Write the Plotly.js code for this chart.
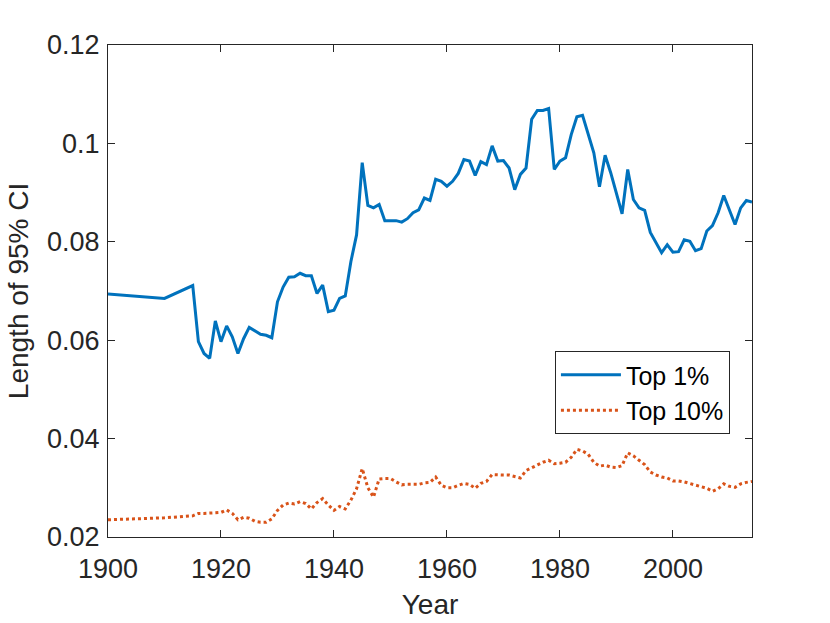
<!DOCTYPE html>
<html>
<head>
<meta charset="utf-8">
<script src="https://cdn.plot.ly/plotly-3.0.1.min.js"></script>
<style>html,body{margin:0;padding:0;background:#fff;}#chart{width:830px;height:623px;}</style>
</head>
<body>
<div id="chart"></div>
<script>
const years = [1900, 1910, 1915, 1916, 1917, 1918, 1919, 1920, 1921, 1922, 1923, 1924, 1925, 1926, 1927, 1928, 1929,
  1930, 1931, 1932, 1933, 1934, 1935, 1936, 1937, 1938, 1939, 1940, 1941, 1942, 1943, 1944, 1945, 1946, 1947, 1948, 1949,
  1950, 1951, 1952, 1953, 1954, 1955, 1956, 1957, 1958, 1959, 1960, 1961, 1962, 1963, 1964, 1965, 1966, 1967, 1968, 1969,
  1970, 1971, 1972, 1973, 1974, 1975, 1976, 1977, 1978, 1979, 1980, 1981, 1982, 1983, 1984, 1985, 1986, 1987, 1988, 1989,
  1990, 1991, 1992, 1993, 1994, 1995, 1996, 1997, 1998, 1999, 2000, 2001, 2002, 2003, 2004, 2005, 2006, 2007, 2008, 2009,
  2010, 2011, 2012, 2013, 2014];

const top1 = [0.0694, 0.0685, 0.0711, 0.0597, 0.0573, 0.0563, 0.0639, 0.0597, 0.0629, 0.0607, 0.0573, 0.0603, 0.0626, 0.0619, 0.0612, 0.0610, 0.0605,
  0.0678, 0.0708, 0.0728, 0.0729, 0.0736, 0.0731, 0.0731, 0.0695, 0.0712, 0.0658, 0.0661, 0.0685, 0.0690, 0.0760, 0.0814, 0.0961, 0.0874, 0.0869, 0.0876, 0.0843,
  0.0843, 0.0843, 0.0840, 0.0847, 0.0859, 0.0865, 0.0889, 0.0884, 0.0927, 0.0923, 0.0913, 0.0923, 0.0939, 0.0967, 0.0964, 0.0935, 0.0963, 0.0957, 0.0995, 0.0964,
  0.0965, 0.0950, 0.0906, 0.0937, 0.0950, 0.1049, 0.1067, 0.1067, 0.1071, 0.0947, 0.0964, 0.0971, 0.1018, 0.1054, 0.1057, 0.1018, 0.0981, 0.0912, 0.0976, 0.0940,
  0.0899, 0.0857, 0.0947, 0.0886, 0.0869, 0.0864, 0.0819, 0.0797, 0.0778, 0.0794, 0.0779, 0.0780, 0.0804, 0.0801, 0.0782, 0.0786, 0.0822, 0.0833, 0.0859, 0.0894,
  0.0865, 0.0835, 0.0869, 0.0884, 0.0881];

const top10 = [0.0235, 0.0239, 0.0243, 0.0248, 0.0248, 0.0249, 0.0249, 0.0250, 0.0255, 0.0248, 0.0235, 0.0240, 0.0238, 0.0232, 0.0230, 0.0230, 0.0237,
  0.0254, 0.0265, 0.0269, 0.0267, 0.0272, 0.0268, 0.0257, 0.0270, 0.0278, 0.0265, 0.0254, 0.0262, 0.0257, 0.0275, 0.0298, 0.0339, 0.0300, 0.0281, 0.0318, 0.0319,
  0.0319, 0.0312, 0.0306, 0.0307, 0.0307, 0.0307, 0.0310, 0.0311, 0.0322, 0.0305, 0.0300, 0.0300, 0.0305, 0.0309, 0.0307, 0.0299, 0.0309, 0.0313, 0.0327, 0.0326,
  0.0326, 0.0326, 0.0323, 0.0320, 0.0335, 0.0341, 0.0346, 0.0352, 0.0356, 0.0349, 0.0350, 0.0352, 0.0362, 0.0378, 0.0375, 0.0368, 0.0352, 0.0344, 0.0346, 0.0342,
  0.0341, 0.0345, 0.0371, 0.0365, 0.0356, 0.0347, 0.0332, 0.0326, 0.0322, 0.0320, 0.0314, 0.0314, 0.0312, 0.0309, 0.0306, 0.0303, 0.0299, 0.0293, 0.0298, 0.0308,
  0.0303, 0.0301, 0.0308, 0.0311, 0.0313];

const seriesNames = ['Top 1%', 'Top 10%'];
const xTickVals = [1900, 1920, 1940, 1960, 1980, 2000];
const xTickText = ['1900', '1920', '1940', '1960', '1980', '2000'];
const yTickVals = [0.02, 0.04, 0.06, 0.08, 0.10, 0.12];
const yTickText = ['0.02', '0.04', '0.06', '0.08', '0.1', '0.12'];

const FONT = 'Liberation Sans, Arial, Helvetica, sans-serif';
const INK = '#262626';

const traces = [
  {x: years, y: top1, name: seriesNames[0], type: 'scatter', mode: 'lines',
   line: {color: '#0072BD', width: 3}},
  {x: years, y: top10, name: seriesNames[1], type: 'scatter', mode: 'lines',
   line: {color: '#D95319', width: 3, dash: 'dot'}}
];

const axisCommon = {
  showgrid: false, zeroline: false, showline: true, mirror: 'ticks',
  linecolor: INK, linewidth: 1, ticks: 'inside', ticklen: 7, tickwidth: 1, tickcolor: INK,
  tickfont: {family: FONT, size: 27, color: INK}
};

const layout = {
  width: 830, height: 623,
  margin: {l: 108, r: 78, t: 45, b: 86},
  paper_bgcolor: '#fff', plot_bgcolor: '#fff',
  showlegend: true,
  legend: {x: 0.694, y: 0.378, xanchor: 'left', yanchor: 'top',
    bgcolor: '#fff', bordercolor: INK, borderwidth: 1,
    font: {family: FONT, size: 25, color: '#000'}, itemwidth: 60, tracegroupgap: 0,
    entrywidth: 172, entrywidthmode: 'pixels'},
  xaxis: Object.assign({}, axisCommon, {
    range: [1900, 2014], tickvals: xTickVals, ticktext: xTickText, ticklabelstandoff: 8,
    title: {text: 'Year', font: {family: FONT, size: 28, color: INK}, standoff: 10}
  }),
  yaxis: Object.assign({}, axisCommon, {
    range: [0.02, 0.12], tickvals: yTickVals, ticktext: yTickText, ticklabelstandoff: 2,
    title: {text: 'Length of 95% CI', font: {family: FONT, size: 28, color: INK}, standoff: 10}
  })
};

Plotly.newPlot('chart', traces, layout, {displayModeBar: false, staticPlot: true});
</script>
</body>
</html>
